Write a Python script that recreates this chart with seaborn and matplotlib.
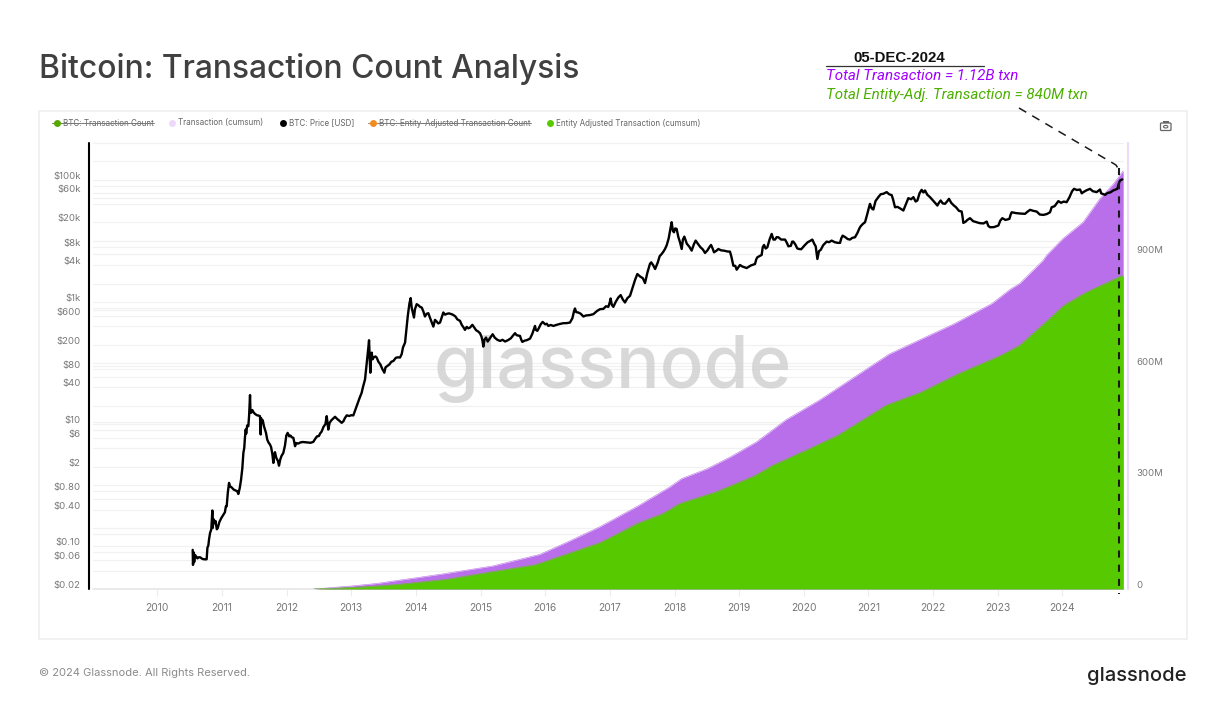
import numpy as np
import seaborn as sns
import matplotlib.pyplot as plt
from matplotlib.lines import Line2D
from matplotlib.patches import Rectangle, FancyBboxPatch, Circle
from matplotlib.transforms import ScaledTranslation

# price: (decimal year, USD)
price_points = [
    (2010.547, .0875), (2010.552, .0496), (2010.56, .08), (2010.57, .055), (2010.583, .0723), (2010.60, .068),
    (2010.62, .0635), (2010.64, .066), (2010.66, .0662), (2010.70, .062), (2010.74, .061), (2010.763, .0614),
    (2010.775, .095), (2010.789, .103), (2010.80, .13), (2010.815, .164), (2010.835, .19), (2010.851, .386),
    (2010.858, .2), (2010.868, .28), (2010.882, .239), (2010.90, .26), (2010.92, .19), (2010.934, .198),
    (2010.96, .25), (2010.99, .29), (2011.021, .328), (2011.045, .36), (2011.06, .45), (2011.073, .45),
    (2011.09, .75), (2011.109, 1.09), (2011.125, .96), (2011.15, .92), (2011.18, .85), (2011.21, .82),
    (2011.235, .80), (2011.253, .718), (2011.275, .9), (2011.295, 1.23), (2011.315, 1.9), (2011.331, 3.38),
    (2011.345, 4.1), (2011.355, 6.0), (2011.367, 8.16), (2011.375, 7.0), (2011.39, 9.5), (2011.408, 9.26),
    (2011.42, 14), (2011.434, 29.9), (2011.44, 17), (2011.449, 15.3), (2011.47, 17), (2011.49, 15.5),
    (2011.511, 14.7), (2011.54, 14), (2011.565, 13.8), (2011.588, 13.5), (2011.599, 6.76), (2011.606, 12.5),
    (2011.615, 11), (2011.63, 11.6), (2011.65, 9.2), (2011.681, 7.19), (2011.70, 5.6), (2011.72, 5.0),
    (2011.743, 4.63), (2011.76, 4.2), (2011.78, 3.2), (2011.795, 2.32), (2011.803, 2.9), (2011.82, 3.47),
    (2011.84, 2.8), (2011.865, 2.5), (2011.882, 2.09), (2011.90, 2.6), (2011.92, 3.0), (2011.949, 3.38),
    (2011.975, 4.5), (2011.995, 6.5), (2012.016, 7.19), (2012.04, 6.3), (2012.06, 6.5), (2012.08, 6.1),
    (2012.104, 5.96), (2012.118, 5.1), (2012.13, 4.35), (2012.15, 4.9), (2012.18, 4.8), (2012.21, 5.0),
    (2012.25, 5.1), (2012.285, 5.06), (2012.33, 5.0), (2012.37, 4.95), (2012.413, 5.12), (2012.44, 5.7),
    (2012.47, 6.3), (2012.50, 6.4), (2012.517, 7.01), (2012.54, 7.5), (2012.57, 9.0), (2012.60, 10.0),
    (2012.62, 13.5), (2012.645, 8.16), (2012.665, 10.5), (2012.69, 11.5), (2012.72, 12.3), (2012.749, 13.2),
    (2012.78, 12.2), (2012.81, 11.5), (2012.852, 10.5), (2012.88, 11.2), (2012.90, 12.5), (2012.93, 13.9),
    (2012.97, 13.6), (2013.0, 14), (2013.032, 13.9), (2013.07, 18), (2013.10, 22), (2013.13, 27),
    (2013.161, 32.7), (2013.18, 40), (2013.20, 48), (2013.213, 54), (2013.24, 100), (2013.262, 170),
    (2013.275, 236), (2013.285, 120), (2013.295, 69.5), (2013.305, 120), (2013.316, 148), (2013.33, 115),
    (2013.35, 125), (2013.375, 128), (2013.393, 123), (2013.42, 105), (2013.45, 95), (2013.48, 80),
    (2013.512, 69.5), (2013.53, 85), (2013.56, 90), (2013.59, 95), (2013.62, 105), (2013.651, 108),
    (2013.69, 122), (2013.72, 124), (2013.754, 123), (2013.78, 140), (2013.80, 180), (2013.832, 216),
    (2013.85, 330), (2013.875, 600), (2013.90, 950), (2013.919, 1156), (2013.935, 800), (2013.955, 650),
    (2013.97, 556), (2013.985, 760), (2014.012, 920), (2014.04, 880), (2014.065, 830), (2014.09, 811),
    (2014.115, 700), (2014.14, 578), (2014.165, 640), (2014.192, 655), (2014.215, 560), (2014.24, 480),
    (2014.27, 395), (2014.295, 509), (2014.32, 480), (2014.345, 445), (2014.373, 460), (2014.40, 560),
    (2014.424, 672), (2014.45, 620), (2014.48, 640), (2014.51, 650), (2014.553, 631), (2014.58, 610),
    (2014.61, 580), (2014.64, 520), (2014.682, 490), (2014.71, 420), (2014.735, 385), (2014.759, 349),
    (2014.785, 390), (2014.81, 370), (2014.837, 381), (2014.873, 422), (2014.90, 385), (2014.93, 345),
    (2014.96, 330), (2014.991, 308), (2015.015, 270), (2015.03, 230), (2015.043, 186), (2015.06, 240),
    (2015.084, 261), (2015.11, 225), (2015.14, 250), (2015.187, 296), (2015.22, 260), (2015.26, 240),
    (2015.301, 230), (2015.34, 240), (2015.38, 225), (2015.43, 239), (2015.47, 255), (2015.50, 280),
    (2015.533, 308), (2015.56, 285), (2015.61, 278), (2015.63, 240), (2015.646, 222), (2015.68, 232),
    (2015.72, 238), (2015.765, 251), (2015.80, 300), (2015.825, 360), (2015.842, 405), (2015.855, 350),
    (2015.878, 336), (2015.90, 370), (2015.93, 430), (2015.96, 472), (2016.00, 430), (2016.025, 440),
    (2016.048, 405), (2016.085, 420), (2016.126, 405), (2016.17, 420), (2016.22, 435), (2016.28, 449),
    (2016.33, 450), (2016.383, 460), (2016.42, 540), (2016.445, 700), (2016.46, 782), (2016.48, 680),
    (2016.512, 672), (2016.55, 640), (2016.59, 578), (2016.63, 600), (2016.69, 610), (2016.745, 631),
    (2016.80, 710), (2016.848, 762), (2016.90, 770), (2016.94, 850), (2016.977, 832), (2017.0, 1000),
    (2017.012, 1140), (2017.03, 900), (2017.054, 832), (2017.09, 1000), (2017.13, 1180), (2017.167, 1294),
    (2017.20, 1100), (2017.234, 980), (2017.27, 1150), (2017.312, 1262), (2017.35, 1700), (2017.39, 2300),
    (2017.425, 2864), (2017.47, 2600), (2017.51, 2450), (2017.544, 2037), (2017.58, 3000), (2017.62, 4200),
    (2017.64, 4446), (2017.67, 4000), (2017.70, 3459), (2017.74, 4400), (2017.77, 5600), (2017.801, 6095),
    (2017.83, 6700), (2017.853, 7362), (2017.88, 8500), (2017.91, 11000), (2017.935, 15500), (2017.956, 20180),
    (2017.975, 14500), (2017.992, 13840), (2018.01, 16000), (2018.033, 15700), (2018.06, 11500), (2018.085, 9500),
    (2018.111, 7362), (2018.13, 10500), (2018.152, 11750), (2018.19, 9000), (2018.23, 8000), (2018.265, 6920),
    (2018.30, 8800), (2018.327, 10100), (2018.36, 9000), (2018.40, 7900), (2018.44, 7200), (2018.472, 6340),
    (2018.51, 7000), (2018.54, 7900), (2018.565, 8570), (2018.59, 7500), (2018.611, 6500), (2018.65, 6900),
    (2018.678, 7362), (2018.72, 7000), (2018.77, 6900), (2018.82, 6700), (2018.858, 6670), (2018.88, 5500),
    (2018.91, 3926), (2018.94, 3900), (2018.962, 3373), (2019.013, 4027), (2019.05, 3800), (2019.116, 3589),
    (2019.18, 3950), (2019.245, 4178), (2019.265, 5000), (2019.281, 5370), (2019.31, 5600), (2019.348, 5875),
    (2019.365, 7900), (2019.385, 8570), (2019.41, 7500), (2019.436, 7850), (2019.47, 10500), (2019.503, 13000),
    (2019.53, 10500), (2019.555, 10500), (2019.58, 11500), (2019.606, 11450), (2019.65, 10500), (2019.71, 10500),
    (2019.74, 9200), (2019.761, 8150), (2019.80, 8300), (2019.82, 9700), (2019.838, 9730), (2019.87, 8700),
    (2019.90, 7500), (2019.926, 7360), (2019.96, 7300), (2020.018, 8570), (2020.06, 9500), (2020.10, 10000),
    (2020.132, 10500), (2020.16, 9000), (2020.184, 8150), (2020.197, 6500), (2020.21, 5050), (2020.235, 6800),
    (2020.261, 7100), (2020.30, 8500), (2020.354, 9730), (2020.39, 9500), (2020.431, 10100), (2020.48, 9500),
    (2020.52, 9300), (2020.56, 9250), (2020.58, 11000), (2020.601, 12190), (2020.64, 11500), (2020.68, 10700),
    (2020.715, 10500), (2020.75, 11200), (2020.792, 11450), (2020.83, 13500), (2020.86, 16000), (2020.88, 17380),
    (2020.915, 19000), (2020.947, 20180), (2020.98, 27000), (2021.01, 36000), (2021.024, 40360), (2021.05, 34000),
    (2021.076, 32600), (2021.11, 45000), (2021.153, 52000), (2021.19, 58000), (2021.23, 59000), (2021.282, 62800),
    (2021.32, 58000), (2021.36, 56000), (2021.38, 48000), (2021.411, 35500), (2021.45, 36000), (2021.50, 33500),
    (2021.54, 31400), (2021.58, 40000), (2021.617, 50000), (2021.66, 48000), (2021.695, 52000), (2021.73, 44000),
    (2021.757, 45800), (2021.79, 60000), (2021.823, 68500), (2021.85, 62000), (2021.875, 66800), (2021.91, 57000),
    (2021.952, 52000), (2021.99, 47000), (2022.03, 42000), (2022.066, 37900), (2022.09, 42000), (2022.117, 45800),
    (2022.15, 41000), (2022.184, 40400), (2022.215, 44000), (2022.246, 48750), (2022.28, 42000), (2022.32, 38000),
    (2022.355, 35500), (2022.40, 31000), (2022.442, 30200), (2022.455, 25000), (2022.468, 19680), (2022.50, 20500),
    (2022.53, 22000), (2022.571, 23500), (2022.62, 21000), (2022.674, 20180), (2022.72, 19500), (2022.78, 19300),
    (2022.829, 20700), (2022.855, 17500), (2022.881, 16700), (2022.94, 16800), (2023.009, 17800), (2023.04, 21500),
    (2023.071, 23500), (2023.12, 22000), (2023.18, 22900), (2023.20, 27000), (2023.216, 29400), (2023.28, 28500),
    (2023.35, 28000), (2023.422, 27700), (2023.46, 30000), (2023.50, 32200), (2023.55, 31000), (2023.602, 30200),
    (2023.65, 27000), (2023.705, 26600), (2023.76, 27500), (2023.809, 29400), (2023.834, 35500), (2023.88, 37000),
    (2023.937, 44700), (2023.98, 42000), (2024.02, 44000), (2024.066, 43000), (2024.11, 52000), (2024.15, 65000),
    (2024.18, 71100), (2024.225, 68000), (2024.273, 69300), (2024.30, 60000), (2024.324, 62800), (2024.37, 67000),
    (2024.427, 71100), (2024.47, 65000), (2024.53, 62800), (2024.582, 69300), (2024.60, 60000), (2024.66, 56700),
    (2024.70, 61000), (2024.74, 62000), (2024.788, 66900), (2024.85, 71100), (2024.87, 85000), (2024.891, 97500),
    (2024.927, 101400),
]
price_years = [p[0] for p in price_points]
price_usd = [p[1] for p in price_points]

# cumulative transactions, millions
total_years = [
    2012.42, 2013.0, 2013.4, 2013.754, 2014.0, 2014.47, 2015.19, 2015.915, 2016.35, 2016.85,
    2017.43, 2017.93, 2018.11, 2018.51, 2018.87, 2019.27, 2019.73, 2020.24, 2020.71, 2021.32,
    2021.75, 2022.33, 2022.91, 2023.19, 2023.34, 2023.7, 2023.757, 2024.01, 2024.32, 2024.58,
    2024.79, 2024.94,
]
total_txn = [
    0, 8, 15, 24, 30, 42, 62, 93, 127, 168,
    223, 275, 297, 324, 356, 396, 456, 508, 562, 632,
    667, 714, 768, 806, 822, 884, 898, 943, 987, 1050,
    1090, 1125,
]
entity_years = [
    2012.42, 2013.0, 2013.4, 2013.754, 2014.47, 2015.19, 2015.84, 2016.28, 2016.85, 2017.43,
    2017.82, 2018.08, 2018.65, 2019.23, 2019.52, 2020.09, 2020.53, 2021.28, 2021.82, 2022.4,
    2023.05, 2023.34, 2023.77, 2024.02, 2024.35, 2024.88, 2024.94,
]
entity_txn = [
    0, 4, 8, 13, 26, 47, 65, 91, 125, 177,
    203, 230, 262, 304, 333, 378, 414, 495, 530, 580,
    629, 656, 723, 763, 797, 840, 843,
]

year_ticks = list(range(2010, 2025))
price_ticks = [0.02, 0.06, 0.1, 0.4, 0.8, 2, 6, 10, 40, 80, 200, 600, 1000, 4000, 8000, 20000, 60000, 100000]
price_labels = ["$0.02", "$0.06", "$0.10", "$0.40", "$0.80", "$2", "$6", "$10", "$40", "$80",
                "$200", "$600", "$1k", "$4k", "$8k", "$20k", "$60k", "$100k"]
grid_extra = [0.16, 11, 88, 750, 50000]
txn_ticks = [0, 300, 600, 900]
txn_labels = ["0", "300M", "600M", "900M"]

legend_names = ["BTC: Transaction Count", "Transaction (cumsum)", "BTC: Price [USD]",
                "BTC: Entity-Adjusted Transaction Count", "Entity Adjusted Transaction (cumsum)"]
legend_colors = ["#57a800", "#ecd9fb", "#000000", "#f28c1e", "#57c900"]
legend_hidden = [True, False, False, True, False]
legend_marker_x = [57, 172, 283, 373, 550]

PURPLE = "#b96eea"
GREEN = "#57c900"
GREY = "#777777"
W, H = 1220, 707

sns.set_theme(style="white")
plt.rcParams["font.family"] = ["Inter", "DejaVu Sans"]


def fx(x):
    return x / W


def fy(y):
    return 1 - y / H


fig = plt.figure(figsize=(W / 100, H / 100), dpi=100, facecolor="white")
label_shift = ScaledTranslation(0, 4.5 / 100, fig.dpi_scale_trans)

# chart panel
fig.add_artist(Rectangle((fx(39), fy(638.5)), 1148 / W, 528 / H, transform=fig.transFigure,
                         fc="white", ec="#eeeeee", lw=1.1, zorder=0))

rect = [fx(93), fy(589), 1031 / W, 446 / H]
ax_grid = fig.add_axes(rect, zorder=1)
ax_area = fig.add_axes(rect, zorder=2, sharex=ax_grid)
ax_price = fig.add_axes(rect, zorder=3, sharex=ax_grid)
for a in (ax_area, ax_price):
    a.patch.set_visible(False)
for a in (ax_grid, ax_area, ax_price):
    for s in a.spines.values():
        s.set_visible(False)

ax_grid.set_xlim(2009.005, 2024.953)

# grid lines on the log price scale
grid_vals = [m * 10.0 ** e for e in range(-2, 6) for m in (1, 2, 4, 6, 8)]
grid_vals = [v for v in grid_vals if 0.02 <= v <= 400000] + grid_extra
ax_grid.set_yscale("log")
ax_grid.set_ylim(0.02, 400000)
ax_grid.set_yticks(grid_vals, labels=[""] * len(grid_vals))
ax_grid.minorticks_off()
ax_grid.grid(True, axis="y", color="#f1f1f1", lw=0.9)
ax_grid.tick_params(axis="y", length=0)
ax_grid.tick_params(axis="x", bottom=False, labelbottom=False)
ax_grid.axhline(0.02, color="#e6e6e6", lw=1.2, clip_on=False)

# cumulative areas
ax_area.fill_between(total_years, total_txn, color=PURPLE, lw=0)
ax_area.fill_between(entity_years, entity_txn, color=GREEN, lw=0)
sns.lineplot(x=total_years, y=total_txn, ax=ax_area, color=PURPLE, lw=0.4, estimator=None)
sns.lineplot(x=entity_years, y=entity_txn, ax=ax_area, color=GREEN, lw=0.4, estimator=None)
ax_area.set_ylim(0, 1200)
ax_area.yaxis.tick_right()
ax_area.set_yticks(txn_ticks, labels=txn_labels)
ax_area.tick_params(axis="y", length=0, pad=9, labelsize=6.9, labelcolor=GREY)
for lab in ax_area.get_yticklabels():
    lab.set_transform(lab.get_transform() + label_shift)
ax_area.set_xticks(year_ticks, labels=[str(y) for y in year_ticks])
ax_area.tick_params(axis="x", length=5, width=0.8, color="#ececec", pad=5, labelsize=7.4, labelcolor=GREY,
                    bottom=True, labelbottom=True)
ax_area.plot([2025.02, 2025.02], [0, 1200], color="#ecd9fb", lw=1.5, clip_on=False)

# price on top
ax_price.set_yscale("log")
sns.lineplot(x=price_years, y=price_usd, ax=ax_price, color="black", lw=1.7, estimator=None)
ax_price.set_ylim(0.02, 400000)
ax_price.set_yticks(price_ticks, labels=price_labels)
ax_price.minorticks_off()
ax_price.tick_params(axis="y", length=0, pad=9, labelsize=6.9, labelcolor=GREY)
for lab in ax_price.get_yticklabels():
    lab.set_transform(lab.get_transform() + label_shift)
ax_price.tick_params(axis="x", bottom=False, labelbottom=False)
ax_price.set_xlabel("")
ax_price.set_ylabel("")
ax_area.set_xlabel("")
ax_area.set_ylabel("")

# watermark sits between the grid and the areas
fig.text(fx(434), fy(388), "glassnode", fontsize=52.4, fontweight="medium", color="#cfcfcf", alpha=0.8,
         va="baseline", ha="left", zorder=1.5)

# heavy left rule and annotation lines
fig.add_artist(Line2D([fx(88.5), fx(88.5)], [fy(143), fy(589)], color="black", lw=1.5, zorder=5))
fig.add_artist(Line2D([fx(1118.5), fx(1118.5)], [fy(168), fy(594)], color="#1a1a1a", lw=1.5,
                      dashes=(3.4, 3.4), zorder=5))
fig.add_artist(Line2D([fx(1019), fx(1116), fx(1119)], [fy(108), fy(165), fy(170)], color="#1a1a1a", lw=1.1,
                      dashes=(5.5, 4.5), zorder=5))

# legend strip
for name, col, hidden, mx in zip(legend_names, legend_colors, legend_hidden, legend_marker_x):
    t = fig.text(fx(mx + 6), fy(123), name, fontsize=5.8, color="#666666", va="center", ha="left", zorder=6)
    fig.add_artist(Line2D([fx(mx)], [fy(123)], marker="o", ms=5, color=col, mew=0, ls="", zorder=6))
    if hidden:
        bb = t.get_window_extent(fig.canvas.get_renderer())
        fig.add_artist(Line2D([fx(mx - 5), bb.x1 / W], [fy(123), fy(123)], color="#777777", lw=0.7, zorder=7))
        fig.add_artist(Line2D([fx(mx - 4), fx(mx + 4)], [fy(123), fy(123)], color=col, lw=1.0, zorder=7))

# camera icon
fig.add_artist(FancyBboxPatch((fx(1160.5), fy(130.5)), 10.5 / W, 7.5 / H, boxstyle="round,pad=0,rounding_size=0.001",
                              transform=fig.transFigure, fc="none", ec="#666666", lw=0.9, zorder=6))
fig.add_artist(Rectangle((fx(1163), fy(123)), 5.5 / W, 2 / H, transform=fig.transFigure, fc="#666666", ec="none", zorder=6))
fig.add_artist(Circle((fx(1165.7), fy(126.7)), 2.2 / W, transform=fig.transFigure, fc="none", ec="#666666", lw=0.8, zorder=6))

# heading and call-out
fig.text(fx(39), fy(78), "Bitcoin: Transaction Count Analysis", fontsize=22.95, fontweight="medium",
         color="#404040", va="baseline", ha="left")
fig.text(fx(899.5), fy(58.5), "05-DEC-2024", fontsize=10.8, fontweight="bold", family=["Liberation Sans"],
         color="#111111", va="center", ha="center")
fig.add_artist(Line2D([fx(826), fx(984)], [fy(65.5), fy(65.5)], color="#333333", lw=0.9))
fig.text(fx(826), fy(76.5), "Total Transaction = 1.12B txn", fontsize=10.9, style="italic", family=["Roboto"],
         color="#a100ff", va="center", ha="left")
fig.text(fx(826), fy(94.5), "Total Entity-Adj. Transaction = 840M txn", fontsize=10.9, style="italic", family=["Roboto"],
         color="#4cb000", va="center", ha="left")

# footer
fig.text(fx(39), fy(672.5), "© 2024 Glassnode. All Rights Reserved.", fontsize=8.0, color="#8a8a8a", va="center", ha="left")
fig.text(fx(1187), fy(681), "glassnode", fontsize=14.5, fontweight="medium", color="#222222", va="baseline", ha="right")

fig.savefig("out.png", dpi=100, facecolor="white")
